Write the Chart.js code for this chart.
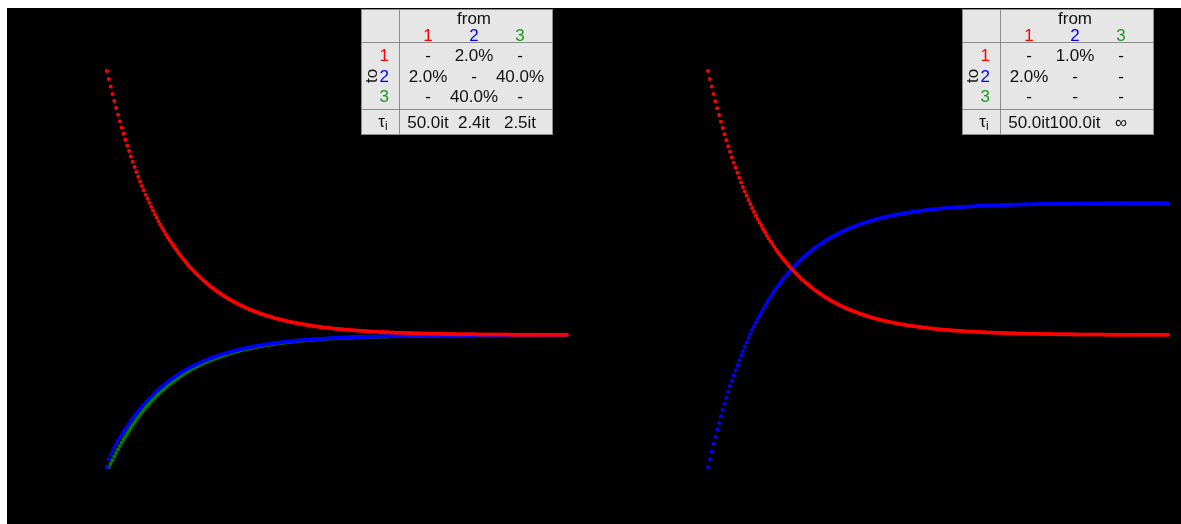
<!DOCTYPE html>
<html>
<head>
<meta charset="utf-8">
<script src="https://cdn.jsdelivr.net/npm/chart.js@4"></script>
<style>
  html, body { margin: 0; padding: 0; background: #fff; }
  #stage { position: absolute; left: 7px; top: 8px; width: 1174px; height: 516px; background: #000; }
  canvas { position: absolute; top: 0; }
  .rates { position: absolute; top: 1px; width: 190px; height: 124px; background: #e6e6e6;
           border: 1px solid #8c8c8c; font: 17px "Liberation Sans", Arial, sans-serif; color: #111; }
  .rates span { position: absolute; transform: translate(-50%, -50%); white-space: nowrap; line-height: 1; }
  .rates .vl { position: absolute; left: 37px; top: 0; bottom: 0; width: 1px; background: #8c8c8c; }
  .rates .hl { position: absolute; left: 0; right: 0; height: 1px; background: #8c8c8c; }
  .rates sub { font-size: 12px; vertical-align: -3px; }
</style>
</head>
<body>
<div id="stage">
  <canvas id="chartA" width="587" height="516" style="left:0"></canvas>
  <canvas id="chartB" width="587" height="516" style="left:587px"></canvas>
</div>
<script>
// Iterations shown on each panel
const steps = 250;

// State colours (1, 2, 3)
const stateColors = ["#ff0000", "#0000ff", "#008000"];
const labelColors = ["#ff0000", "#0000ff", "#1a9a1a"];

// Start with everything in state 1
const startState = [1, 0, 0];

// Per-iteration transition rates, rows = to, columns = from
const ratesA = [
  [0, 0.02, 0],
  [0.02, 0, 0.40],
  [0, 0.40, 0],
];
const ratesB = [
  [0, 0.01, 0],
  [0.02, 0, 0],
  [0, 0, 0],
];

// Which states get plotted on each panel
const shownA = [0, 1, 2];
const shownB = [0, 1];

// Step the chain and record each state's occupancy
function occupancy(rates) {
  let p = startState.slice();
  const series = p.map(() => []);
  for (let t = 0; t <= steps; t++) {
    p.forEach((v, i) => series[i].push({ x: t, y: v }));
    const next = p.map((v, i) => {
      let out = 0, inflow = 0;
      for (let j = 0; j < p.length; j++) {
        out += rates[j][i];
        inflow += rates[i][j] * p[j];
      }
      return v * (1 - out) + inflow;
    });
    p = next;
  }
  return series;
}

function makeChart(canvasId, rates, shown, padLeft, padRight) {
  const series = occupancy(rates);
  const datasets = shown.map((i) => ({
    label: String(i + 1),
    data: series[i],
    showLine: false,
    pointRadius: 2,
    pointBorderWidth: 0,
    pointBackgroundColor: stateColors[i],
    pointHoverRadius: 2,
    clip: false,
    order: i,
  }));

  return new Chart(document.getElementById(canvasId), {
    type: "line",
    data: { datasets },
    options: {
      responsive: false,
      animation: false,
      devicePixelRatio: 1,
      events: [],
      layout: { padding: { left: padLeft, right: padRight, top: 63, bottom: 57 } },
      plugins: { legend: { display: false }, tooltip: { enabled: false } },
      scales: {
        x: { type: "linear", min: 0, max: steps, display: false },
        y: { type: "linear", min: 0, max: 1, display: false },
      },
    },
  });
}

// Rate table drawn over the top right of each panel
function buildTable(left, rates) {
  const box = document.createElement("div");
  box.className = "rates";
  box.style.left = left + "px";

  const cols = [66, 112, 158];
  const rows = [45, 66, 86];
  let html = '<div class="vl"></div><div class="hl" style="top:32px"></div><div class="hl" style="top:99px"></div>';
  html += '<span style="left:112px;top:8px">from</span>';
  cols.forEach((x, i) => {
    html += `<span style="left:${x}px;top:25px;color:${labelColors[i]}">${i + 1}</span>`;
  });
  html += '<span style="left:9px;top:66px;transform:translate(-50%,-50%) rotate(-90deg)">to</span>';
  rows.forEach((y, i) => {
    html += `<span style="left:27px;top:${y}px;transform:translate(-100%,-50%);color:${labelColors[i]}">${i + 1}</span>`;
    cols.forEach((x, j) => {
      const text = i === j || rates[i][j] === 0 ? "-" : (rates[i][j] * 100).toFixed(1) + "%";
      html += `<span style="left:${x}px;top:${y}px">${text}</span>`;
    });
  });
  html += '<span style="left:21px;top:112px">τ<sub>i</sub></span>';
  cols.forEach((x, j) => {
    const leave = rates.reduce((s, row) => s + row[j], 0);
    const text = leave === 0 ? "∞" : (1 / leave).toFixed(1) + "it";
    html += `<span style="left:${x}px;top:112px">${text}</span>`;
  });
  box.innerHTML = html;
  document.getElementById("stage").appendChild(box);
}

makeChart("chartA", ratesA, shownA, 100, 27);
makeChart("chartB", ratesB, shownB, 114, 13);
buildTable(354, ratesA);
buildTable(955, ratesB);
</script>
</body>
</html>
